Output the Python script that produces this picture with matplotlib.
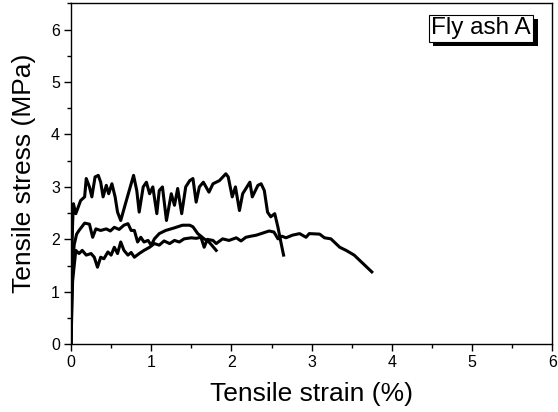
import matplotlib
matplotlib.use("Agg")
import matplotlib.pyplot as plt
import matplotlib.patheffects as pe
from matplotlib.ticker import MultipleLocator

plt.rcParams['font.family'] = ['Liberation Sans', 'DejaVu Sans']

# Specimen 1 (highest multiple-cracking plateau)
strain_1 = [0.0, 0.005, 0.01, 0.02, 0.03, 0.06, 0.12, 0.17, 0.19, 0.23, 0.26, 0.30, 0.34,
            0.37, 0.40, 0.44, 0.47, 0.51, 0.55, 0.58, 0.62, 0.69, 0.78, 0.82, 0.85,
            0.90, 0.94, 0.98, 1.02, 1.07, 1.10, 1.14, 1.19, 1.25, 1.29, 1.33, 1.38,
            1.43, 1.48, 1.52, 1.56, 1.60, 1.65, 1.72, 1.77, 1.85, 1.93, 1.96, 2.01,
            2.05, 2.10, 2.14, 2.23, 2.26, 2.33, 2.37, 2.41, 2.45, 2.49, 2.54, 2.58,
            2.62, 2.65]
stress_1 = [0.0, 0.8, 1.6, 2.3, 2.68, 2.49, 2.74, 2.81, 3.16, 3.0, 2.81, 3.19, 3.22,
            3.09, 2.81, 3.03, 2.87, 3.06, 2.81, 2.52, 2.36, 2.74, 3.22, 2.93, 2.52,
            3.0, 3.09, 2.87, 3.0, 2.49, 2.93, 3.0, 2.36, 2.87, 2.65, 2.97, 2.49,
            3.0, 3.12, 3.16, 2.71, 3.0, 3.09, 2.90, 3.06, 3.12, 3.25, 3.19, 2.81,
            3.0, 2.55, 2.87, 3.09, 2.81, 3.03, 3.06, 2.93, 2.52, 2.43, 2.49, 2.23,
            1.92, 1.70]

# Specimen 2 (middle curve, early failure)
strain_2 = [0.0, 0.01, 0.02, 0.04, 0.07, 0.10, 0.17, 0.23, 0.27, 0.31, 0.37, 0.44,
            0.49, 0.54, 0.60, 0.66, 0.71, 0.75, 0.79, 0.83, 0.87, 0.91, 0.96, 1.00,
            1.04, 1.10, 1.18, 1.29, 1.39, 1.48, 1.52, 1.58, 1.62, 1.66, 1.72, 1.76,
            1.81]
stress_2 = [0.0, 1.0, 1.5, 1.9, 2.1, 2.17, 2.31, 2.29, 2.04, 2.20, 2.17, 2.20,
            2.16, 2.23, 2.19, 2.27, 2.30, 2.17, 2.17, 1.95, 2.04, 1.95, 1.98, 1.89,
            2.01, 2.11, 2.17, 2.22, 2.27, 2.27, 2.24, 2.11, 2.06, 2.01, 1.95, 1.88,
            1.79]

# Specimen 3 (lowest plateau, largest strain capacity)
strain_3 = [0.0, 0.01, 0.02, 0.04, 0.06, 0.10, 0.14, 0.19, 0.25, 0.29, 0.33, 0.37,
            0.41, 0.46, 0.50, 0.54, 0.58, 0.62, 0.66, 0.71, 0.75, 0.79, 0.85, 0.91,
            0.98, 1.04, 1.10, 1.16, 1.23, 1.29, 1.35, 1.41, 1.50, 1.56, 1.62, 1.66,
            1.70, 1.77, 1.81, 1.89, 1.97, 2.06, 2.12, 2.18, 2.24, 2.31, 2.39, 2.47,
            2.53, 2.58, 2.63, 2.68, 2.76, 2.85, 2.93, 2.97, 3.10, 3.16, 3.24, 3.35,
            3.43, 3.53, 3.64, 3.75]
stress_3 = [0.0, 0.6, 1.2, 1.5, 1.79, 1.73, 1.79, 1.70, 1.73, 1.66, 1.47, 1.66,
            1.63, 1.76, 1.70, 1.85, 1.73, 1.95, 1.79, 1.70, 1.75, 1.66, 1.73, 1.79,
            1.85, 1.92, 1.89, 1.97, 1.92, 1.98, 1.95, 2.01, 2.03, 2.02, 2.04, 1.85,
            2.00, 1.98, 1.92, 2.01, 1.98, 2.03, 1.97, 2.04, 2.06, 2.08, 2.12, 2.16,
            2.14, 2.01, 2.06, 2.03, 2.08, 2.11, 2.04, 2.11, 2.10, 2.03, 2.01, 1.85,
            1.79, 1.70, 1.54, 1.38]

fig = plt.figure(figsize=(5.58, 4.12), dpi=100)
ax = fig.add_axes([71 / 558, 1 - 344.3 / 412, (552.3 - 71) / 558, (344.3 - 3.3) / 412])

for xs, ys in [(strain_1, stress_1), (strain_2, stress_2), (strain_3, stress_3)]:
    ax.plot(xs, ys, color='black', lw=2.2, solid_joinstyle='round')

ax.set_xlim(0, 6)
ax.set_ylim(0, 6.5)
ax.xaxis.set_major_locator(MultipleLocator(1))
ax.xaxis.set_minor_locator(MultipleLocator(0.5))
ax.yaxis.set_major_locator(MultipleLocator(1))
ax.yaxis.set_minor_locator(MultipleLocator(0.5))
ax.tick_params(which='major', direction='out', length=5, width=1, labelsize=11.5, pad=3)
ax.tick_params(which='minor', direction='out', length=3, width=1)
for s in ax.spines.values():
    s.set_linewidth(1.0)

ax.set_xlabel('Tensile strain (%)', fontsize=19, labelpad=8)
ax.set_ylabel('Tensile stress (MPa)', fontsize=19, labelpad=11)

t = ax.text(0.852, 0.927, 'Fly ash A', transform=ax.transAxes, fontsize=17.5,
            ha='center', va='center',
            bbox=dict(boxstyle='square,pad=0.1', facecolor='white', edgecolor='black', lw=0.8))
t.get_bbox_patch().set_path_effects([
    pe.SimplePatchShadow(offset=(3.2, -3.2), shadow_rgbFace='black', alpha=1.0),
    pe.Normal()])

fig.savefig('out.png', dpi=100)
